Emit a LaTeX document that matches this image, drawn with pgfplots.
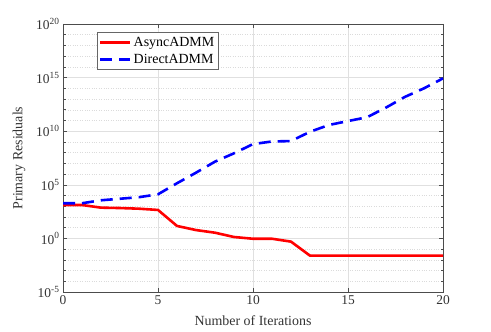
\documentclass[border=0pt]{standalone}
\usepackage{pgfplots}
\pgfplotsset{compat=1.18}
\usepackage{fontspec}
\setmainfont{Liberation Serif}

\begin{document}
\begin{tikzpicture}[x=1bp,y=1bp]
    \path[use as bounding box] (0,0) rectangle (491,331);
    \begin{axis}[
        at={(63bp,39bp)}, anchor=south west,
        scale only axis,
        width=380bp, height=268bp,
        xmin=0, xmax=20,
        ymode=log,
        ymin=1e-5, ymax=1e20,
        log basis y=10,
        xtick={0,5,10,15,20},
        xticklabels={0,5,10,15,20},
        ytick={1e-5,1e0,1e5,1e10,1e15,1e20},
        yticklabels={10\textsuperscript{-5},10\textsuperscript{0},10\textsuperscript{5},10\textsuperscript{10},10\textsuperscript{15},10\textsuperscript{20}},
        minor ytick={1e-4,1e-3,1e-2,1e-1,1e1,1e2,1e3,1e4,1e6,1e7,1e8,1e9,1e11,1e12,1e13,1e14,1e16,1e17,1e18,1e19},
        grid=both,
        major grid style={black!12, line width=0.6bp},
        minor grid style={black!14, dotted, line width=0.5bp},
        axis line style={black!70, line width=0.6bp},
        tick style={black!70, line width=0.6bp},
        major tick length=4bp,
        minor tick length=2.5bp,
        tick align=inside,
        xtick pos=both, ytick pos=both,
        ticklabel style={font=\fontsize{13.5}{15}\selectfont, text=black!80},
        label style={font=\fontsize{14}{16}\selectfont, text=black!80},
        xlabel={Number of Iterations},
        ylabel={Primary Residuals},
        xlabel style={yshift=-4bp},
        ylabel style={yshift=4bp},
        legend style={at={(0.089,0.97)}, anchor=north west,
                      draw=black!60, fill=white, line width=0.6bp,
                      font=\fontsize{14}{15}\selectfont,
                      inner xsep=2bp, inner ysep=3bp, row sep=2bp},
        legend cell align=left,
        legend image code/.code={
            \draw[#1] (0bp,0bp) -- (30bp,0bp);
        },
    ]
        \addplot[red, line width=2.6bp] coordinates {
            (0,1.3e3) (1,1.3e3) (2,7.4e2) (3,6.8e2) (4,5.9e2) (5,4.5e2)
            (6,14.5) (7,6.0) (8,3.4) (9,1.35) (10,0.93) (11,0.93)
            (12,0.5) (13,0.0245) (14,0.0245) (15,0.0245) (16,0.0245)
            (17,0.0245) (18,0.0245) (19,0.0245) (20,0.0245)
        };
        \addlegendentry{AsyncADMM}

        \addplot[blue, line width=2.6bp, dash pattern=on 12bp off 7bp] coordinates {
            (0,1.9e3) (1,1.9e3) (2,3.6e3) (3,5.0e3) (4,7.0e3) (5,1.3e4)
            (6,1.4e5) (7,1.35e6) (8,1.45e7) (9,8.7e7) (10,6.3e8) (11,1.1e9)
            (12,1.2e9) (13,8.9e9) (14,3.8e10) (15,8.9e10) (16,2.0e11)
            (17,1.6e12) (18,1.6e13) (19,1.0e14) (20,8.5e14)
        };
        \addlegendentry{DirectADMM}
    \end{axis}
\end{tikzpicture}
\end{document}
